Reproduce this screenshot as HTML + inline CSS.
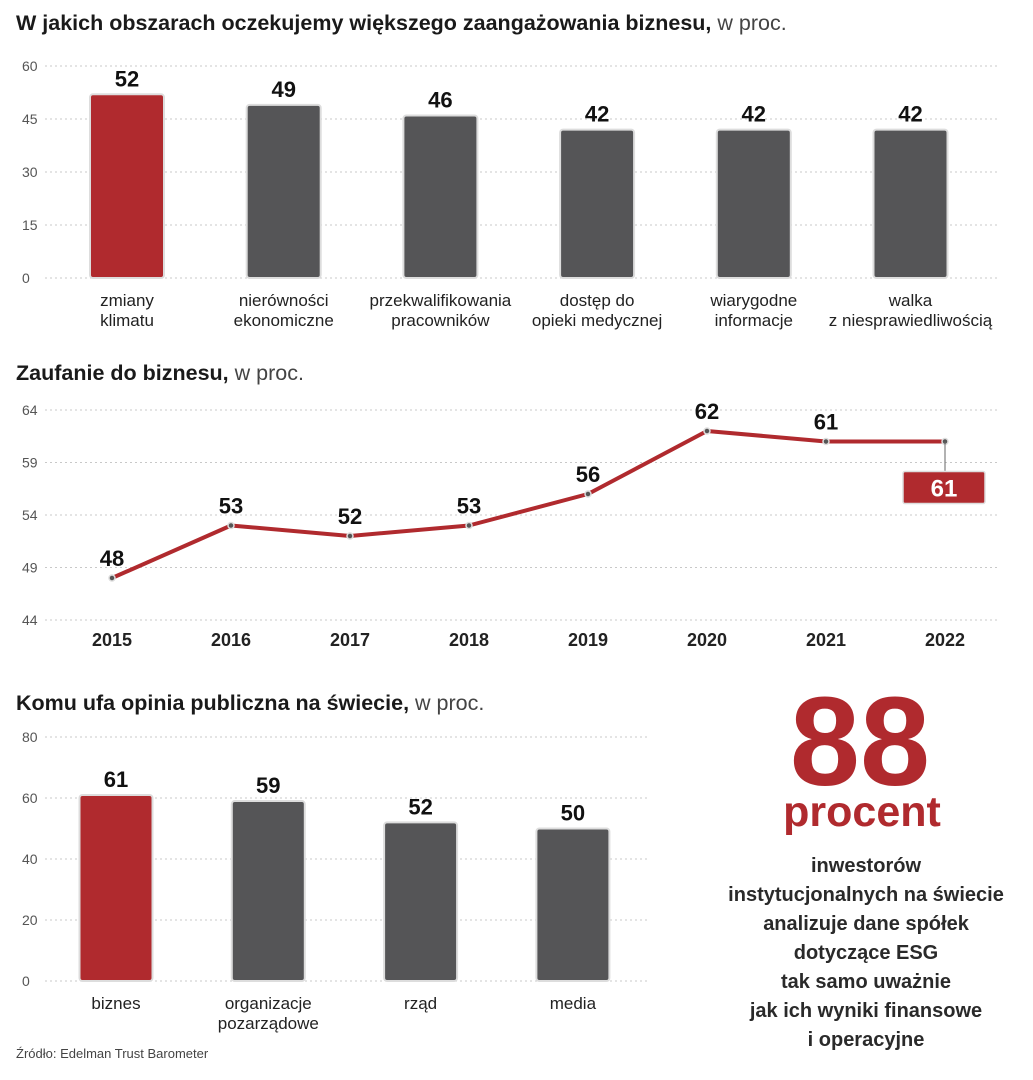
<!DOCTYPE html>
<html><head><meta charset="utf-8">
<style>
body{margin:0;background:#fff;width:1033px;height:1080px;overflow:hidden;font-family:"Liberation Sans Narrow","Liberation Sans",sans-serif;}
svg{position:absolute;left:0;top:0}
</style></head>
<body>
<svg width="1033" height="1080" id="svg" xmlns="http://www.w3.org/2000/svg">
<text x="16" y="30" font-size="21.5" font-weight="bold" fill="#1a1a1a">W jakich obszarach oczekujemy większego zaangażowania biznesu,<tspan font-weight="normal" fill="#444"> w proc.</tspan></text>
<text x="16" y="380" font-size="21.5" font-weight="bold" fill="#1a1a1a">Zaufanie do biznesu,<tspan font-weight="normal" fill="#444"> w proc.</tspan></text>
<text x="16" y="710" font-size="21.5" font-weight="bold" fill="#1a1a1a">Komu ufa opinia publiczna na świecie,<tspan font-weight="normal" fill="#444"> w proc.</tspan></text>
<text x="860" y="785" font-size="126" font-weight="bold" fill="#b02a2e" text-anchor="middle">88</text>
<text x="862" y="826" font-size="43" font-weight="bold" fill="#b02a2e" text-anchor="middle">procent</text>
<g font-size="20" font-weight="bold" fill="#2a2a2a" text-anchor="middle">
<text x="866" y="872">inwestorów</text>
<text x="866" y="901">instytucjonalnych na świecie</text>
<text x="866" y="930">analizuje dane spółek</text>
<text x="866" y="959">dotyczące ESG</text>
<text x="866" y="988">tak samo uważnie</text>
<text x="866" y="1017">jak ich wyniki finansowe</text>
<text x="866" y="1046">i operacyjne</text>
</g>
<text x="16" y="1058" font-size="13" fill="#444" font-family="Liberation Sans, sans-serif">Źródło: Edelman Trust Barometer</text>
<g id="c1"></g><g id="c2"></g><g id="c3"></g>
</svg>
<script>
const NS="http://www.w3.org/2000/svg";
const c1Cats=[["zmiany","klimatu"],["nierówności","ekonomiczne"],["przekwalifikowania","pracowników"],["dostęp do","opieki medycznej"],["wiarygodne","informacje"],["walka","z niesprawiedliwością"]];
const c1Vals=[52,49,46,42,42,42];
const c1Ticks=[0,15,30,45,60];
const c2Years=["2015","2016","2017","2018","2019","2020","2021","2022"];
const c2Vals=[48,53,52,53,56,62,61,61];
const c2Ticks=[44,49,54,59,64];
const c3Cats=[["biznes"],["organizacje","pozarządowe"],["rząd"],["media"]];
const c3Vals=[61,59,52,50];
const c3Ticks=[0,20,40,60,80];
function el(p,t,a,txt){const e=document.createElementNS(NS,t);for(const k in a)e.setAttribute(k,a[k]);if(txt!==undefined)e.textContent=txt;p.appendChild(e);return e;}
function grid(g,ticks,y,x0,x1){ticks.forEach(t=>{
 const l=el(g,'line',{x1:x0,x2:x1,y1:y(t),y2:y(t),stroke:'#c8c8c8','stroke-dasharray':'2 3'});
 
 
 const tx=el(g,'text',{x:22,y:y(t)+5,'font-size':14,fill:'#555','font-family':'Liberation Sans, sans-serif'},t);
 
 
});}
function bars(g,cats,vals,ticks,y,x0,step,w,x1){
 grid(g,ticks,y,45,x1);
 vals.forEach((v,i)=>{const cx=x0+i*step;
  const r=el(g,'rect',{x:cx-w/2,y:y(v),width:w,height:y(0)-y(v),rx:3,fill:i==0?'#b02a2e':'#555557',stroke:'#ddd','stroke-width':2});
  
  
  const t=el(g,'text',{x:cx,y:y(v)-8,'font-size':22,'font-weight':'bold','text-anchor':'middle',fill:'#111'},v);
  
  
  cats[i].forEach((s,j)=>{const c=el(g,'text',{x:cx,y:y(0)+28+j*20,'font-size':17,'text-anchor':'middle',fill:'#222'},s);
   
   });
 });}
const y1=v=>278-v*(212/60);
bars(document.getElementById('c1'),c1Cats,c1Vals,c1Ticks,y1,127,156.7,74,1000);
const y3=v=>981-v*(244/80);
bars(document.getElementById('c3'),c3Cats,c3Vals,c3Ticks,y3,116,152.3,73,650);
const g2=document.getElementById('c2');
const y2=v=>620-(v-44)*(210/20);
const x2=i=>112+i*119;
grid(g2,c2Ticks,y2,45,1000);
const pts=c2Vals.map((v,i)=>x2(i)+','+y2(v)).join(' ');
const pl=el(g2,'polyline',{points:pts,fill:'none',stroke:'#b02a2e','stroke-width':4,'stroke-linejoin':'round'});


c2Vals.forEach((v,i)=>{
 const last=i==c2Vals.length-1;
 const p=el(g2,'circle',{cx:x2(i),cy:y2(v),r:3,fill:'#555',stroke:'#ddd','stroke-width':1.5});
 
 
 const yl=el(g2,'text',{x:x2(i),y:646,'font-size':18,'font-weight':'bold','text-anchor':'middle',fill:'#222'},c2Years[i]);
 
 
 if(!last){
  const t=el(g2,'text',{x:x2(i),y:y2(v)-12,'font-size':22,'font-weight':'bold','text-anchor':'middle',fill:'#111'},v);
  
  
 } else {
  el(g2,'line',{x1:x2(i),x2:x2(i),y1:y2(v),y2:y2(v)+30,stroke:'#666','stroke-width':1});
  const b=el(g2,'rect',{x:x2(i)-42,y:y2(v)+30,width:82,height:32,rx:2,fill:'#b02a2e',stroke:'#ddd','stroke-width':1.5});
  
  
  const t=el(g2,'text',{x:x2(i)-1,y:y2(v)+55,'font-size':24,'font-weight':'bold','text-anchor':'middle',fill:'#fff'},v);
  
  
 }
});
</script>
</body></html>
